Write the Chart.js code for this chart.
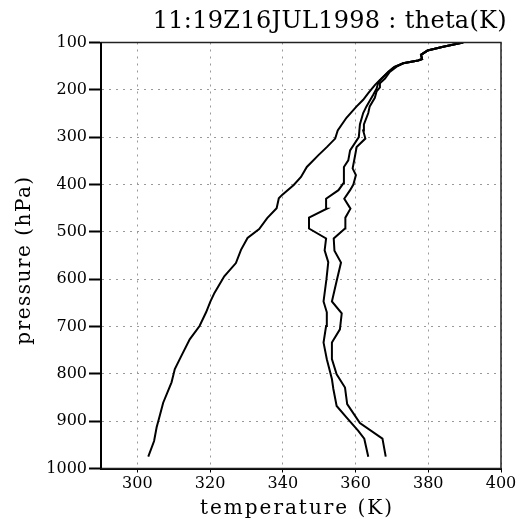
<!DOCTYPE html>
<html>
<head>
<meta charset="utf-8">
<script src="https://cdn.jsdelivr.net/npm/chart.js@4/dist/chart.umd.min.js"></script>
<style>
html, body { margin: 0; padding: 0; background: #fff; }
#wrap { width: 527px; height: 519px; position: relative; }
</style>
</head>
<body>
<div id="wrap"><canvas id="grafica-theta"></canvas></div>
<script>
// ---------------------------------------------------------------
// DATOS
// ---------------------------------------------------------------
var tituloGrafica = '11:19Z16JUL1998 : theta(K)';
var tituloX = 'temperature (K)';
var tituloY = 'pressure (hPa)';
var ticksTemp = [300, 320, 340, 360, 380, 400];
var ticksPresion = [100, 200, 300, 400, 500, 600, 700, 800, 900, 1000];

// theta (curva izquierda)
var presTheta = [975, 942, 913, 896, 861, 818, 790, 762, 727, 699, 670, 647, 629, 594, 566, 538, 513, 494, 471, 450, 429, 422, 401, 384, 363, 338, 321, 303, 286, 259, 235, 221, 207, 190, 179, 169, 153, 144, 138, 135, 126, 117, 109, 100];
var theta = [303.0, 304.6, 305.3, 305.9, 307.1, 309.4, 310.3, 312.1, 314.4, 317.1, 318.9, 320.1, 321.2, 323.9, 327.1, 328.5, 330.3, 333.5, 335.7, 338.3, 338.9, 339.8, 343.0, 345.0, 346.6, 349.8, 352.1, 354.4, 355.1, 357.5, 360.3, 362.1, 363.5, 365.3, 366.7, 368.1, 370.4, 373.1, 377.2, 378.3, 378.0, 379.8, 384.1, 389.6];

// curva central
var presMedia = [975, 937, 920, 892, 868, 832, 811, 769, 734, 699, 670, 647, 600, 564, 539, 514, 493, 470, 451, 430, 412, 398, 363, 349, 328, 300, 273, 249, 235, 210, 197, 186, 176, 162, 151, 144, 138, 135, 126, 117, 109, 100];
var tempMedia = [363.5, 362.4, 360.7, 357.5, 354.8, 353.9, 353.5, 352.1, 351.2, 351.9, 352.1, 351.2, 352.0, 352.5, 351.5, 351.9, 347.2, 347.2, 352.1, 351.9, 355.3, 356.6, 356.8, 358.0, 358.5, 360.9, 361.2, 362.1, 363.0, 364.9, 365.8, 366.2, 367.2, 369.0, 370.8, 373.1, 377.2, 378.3, 378.0, 379.8, 384.1, 389.6];

// curva derecha
var presDerecha = [975, 937, 904, 864, 829, 801, 769, 734, 706, 672, 647, 604, 565, 540, 514, 493, 470, 451, 430, 412, 400, 380, 366, 342, 321, 303, 286, 273, 249, 235, 217, 203, 195, 186, 176, 162, 151, 144, 138, 135, 126, 117, 109, 100];
var tempDerecha = [368.3, 367.4, 361.2, 357.7, 357.1, 354.8, 353.5, 353.5, 355.7, 356.2, 353.5, 354.8, 356.0, 354.2, 354.0, 357.1, 357.2, 358.6, 356.9, 358.5, 359.4, 360.1, 359.2, 359.8, 360.3, 362.7, 362.1, 362.3, 363.5, 363.9, 365.3, 365.8, 366.7, 366.7, 368.1, 369.4, 371.3, 373.1, 377.2, 378.3, 378.0, 379.8, 384.1, 389.6];

// ---------------------------------------------------------------
// GRAFICA
// ---------------------------------------------------------------
function puntos(t, p) {
    return t.map(function (v, i) { return { x: v, y: p[i] }; });
}

function serie(nombre, t, p) {
    return {
        label: nombre,
        data: puntos(t, p),
        borderColor: '#000',
        borderWidth: 2,
        pointRadius: 0,
        fill: false,
        tension: 0
    };
}

// escribe un texto con espaciado entre letras
function texto(ctx, s, x, y, size, espacio, align) {
    ctx.font = size + "px 'DejaVu Serif', serif";
    ctx.letterSpacing = espacio + 'px';
    ctx.textAlign = align;
    ctx.textBaseline = 'alphabetic';
    ctx.fillStyle = '#000';
    ctx.fillText(s, x, y);
}

// marco negro alrededor del area de datos + titulos
var marco = {
    id: 'marco',
    afterDraw: function (chart) {
        var ctx = chart.ctx, a = chart.chartArea;
        ctx.save();
        ctx.strokeStyle = '#222';
        ctx.lineWidth = 1.5;
        ctx.strokeRect(a.left, a.top, a.right - a.left, a.bottom - a.top);
        ctx.beginPath();
        ctx.strokeStyle = '#000';
        ctx.lineWidth = 2;
        ctx.moveTo(a.left, a.top);
        ctx.lineTo(a.left, a.bottom);
        ctx.stroke();

        // titulo principal
        texto(ctx, tituloGrafica, 507, 28, 24, 0.3, 'right');
        // titulo eje x
        texto(ctx, tituloX, 297, 514, 20, 2, 'center');
        // titulo eje y (rotado)
        ctx.translate(30, 260);
        ctx.rotate(-Math.PI / 2);
        texto(ctx, tituloY, 0, 0, 20, 1.5, 'center');
        ctx.restore();
    }
};

Chart.defaults.font.family = "'DejaVu Serif', serif";
Chart.defaults.color = '#000';

var ctx = document.getElementById('grafica-theta').getContext('2d');
var grafica = new Chart(ctx, {
    type: 'line',
    data: {
        datasets: [
            serie('theta', theta, presTheta),
            serie('media', tempMedia, presMedia),
            serie('derecha', tempDerecha, presDerecha)
        ]
    },
    options: {
        responsive: true,
        maintainAspectRatio: false,
        devicePixelRatio: 1,
        animation: false,
        layout: { padding: { left: 0, right: 26, top: 42.5, bottom: 0 } },
        plugins: {
            legend: { display: false },
            tooltip: { enabled: false },
            title: { display: false }
        },
        scales: {
            x: {
                type: 'linear',
                min: 290,
                max: 400,
                afterBuildTicks: function (s) { s.ticks = ticksTemp.map(function (v) { return { value: v }; }); },
                afterFit: function (s) { s.height = 50.5; },
                ticks: { font: { size: 16 }, padding: 2, maxRotation: 0, callback: function (v) { return String(v); } },
                grid: { color: '#999', lineWidth: 1, tickColor: '#000', tickWidth: 1, tickLength: 4 },
                border: { color: '#000', width: 2, dash: [2, 5] }
            },
            y: {
                type: 'linear',
                reverse: true,
                min: 100,
                max: 1000,
                afterBuildTicks: function (s) { s.ticks = ticksPresion.map(function (v) { return { value: v }; }); },
                afterFit: function (s) { s.width = 101; },
                ticks: { font: { size: 16 }, padding: 2, callback: function (v) { return String(v); } },
                grid: { color: '#999', lineWidth: 1, tickColor: '#000', tickWidth: 2, tickLength: 12 },
                border: { color: '#000', width: 2, dash: [2, 5] }
            }
        }
    },
    plugins: [marco]
});
</script>
</body>
</html>
